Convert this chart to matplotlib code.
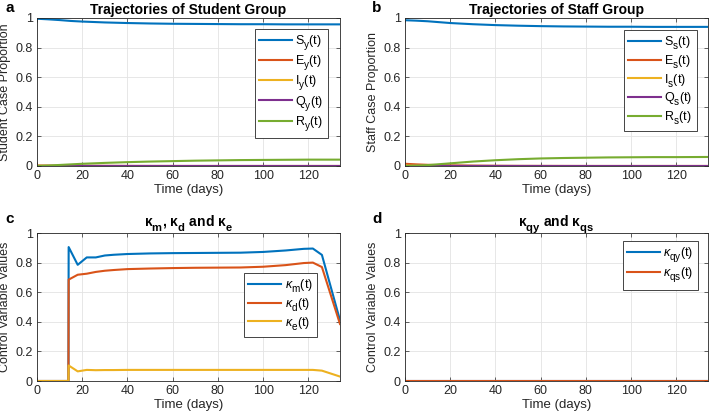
import matplotlib.pyplot as plt
import numpy as np

plt.rcParams['font.family'] = 'Liberation Sans'
plt.rcParams['font.size'] = 9
plt.rcParams['mathtext.fontset'] = 'custom'
plt.rcParams['mathtext.rm'] = 'Liberation Sans'
plt.rcParams['mathtext.it'] = 'Liberation Sans:italic'
plt.rcParams['mathtext.bf'] = 'Liberation Sans:bold'

# MATLAB-like subscripts: a bit bigger and lower than mathtext default
try:
    import matplotlib._mathtext as _mt
    _mt.SHRINK_FACTOR = 0.8
    _mt.FontConstantsBase.sub1 = 0.7
    _mt.FontConstantsBase.sub2 = 0.8
except Exception:
    pass

# ---------------- data ----------------
t_traj = [0, 5, 10, 15, 20, 30, 40, 50, 60, 70, 80, 90, 100, 110, 120, 134]

S_y = [0.995, 0.991, 0.986, 0.980, 0.976, 0.970, 0.966, 0.963, 0.961, 0.960, 0.959, 0.958, 0.958, 0.957, 0.957, 0.957]
E_y = [0.003, 0.002, 0.0015, 0.001, 0.0007, 0.0004, 0.0002, 0.0001, 0.0001, 0, 0, 0, 0, 0, 0, 0]
I_y = [0.002, 0.002, 0.0015, 0.001, 0.0008, 0.0005, 0.0003, 0.0002, 0.0001, 0.0001, 0, 0, 0, 0, 0, 0]
Q_y = [0.0, 0.0005, 0.0008, 0.0008, 0.0007, 0.0005, 0.0003, 0.0002, 0.0001, 0.0001, 0, 0, 0, 0, 0, 0]
R_y = [0.0, 0.003, 0.007, 0.011, 0.015, 0.021, 0.026, 0.030, 0.033, 0.036, 0.038, 0.040, 0.041, 0.042, 0.043, 0.043]

S_s = [0.985, 0.982, 0.978, 0.972, 0.966, 0.958, 0.952, 0.948, 0.945, 0.943, 0.942, 0.941, 0.941, 0.940, 0.940, 0.940]
E_s = [0.015, 0.011, 0.008, 0.006, 0.004, 0.002, 0.001, 0.0005, 0.0003, 0.0002, 0.0001, 0, 0, 0, 0, 0]
I_s = [0.003, 0.003, 0.0025, 0.002, 0.0015, 0.001, 0.0006, 0.0003, 0.0002, 0.0001, 0, 0, 0, 0, 0, 0]
Q_s = [0.0, 0.001, 0.0015, 0.0015, 0.0012, 0.0008, 0.0005, 0.0003, 0.0002, 0.0001, 0, 0, 0, 0, 0, 0]
R_s = [0.0, 0.002, 0.006, 0.012, 0.018, 0.030, 0.039, 0.046, 0.051, 0.054, 0.056, 0.058, 0.059, 0.060, 0.060, 0.061]

t_ctrl = [0, 13.9, 14, 18, 22, 26, 30, 34, 40, 50, 60, 70, 80, 90, 100, 110, 118, 122, 126, 134]
k_m = [0, 0, 0.905, 0.785, 0.835, 0.835, 0.848, 0.853, 0.858, 0.862, 0.864, 0.865, 0.866, 0.867, 0.872, 0.882, 0.893, 0.895, 0.852, 0.41]
k_d = [0, 0, 0.685, 0.718, 0.725, 0.737, 0.745, 0.750, 0.756, 0.760, 0.763, 0.765, 0.766, 0.767, 0.772, 0.783, 0.797, 0.800, 0.770, 0.385]
k_e = [0, 0, 0.105, 0.065, 0.075, 0.073, 0.074, 0.074, 0.075, 0.075, 0.075, 0.075, 0.075, 0.075, 0.075, 0.075, 0.075, 0.075, 0.070, 0.030]

t_q = [0, 134]
k_qy = [0, 0]
k_qs = [0, 0]

colors = ['#0072BD', '#D95319', '#EDB120', '#7E2F8E', '#77AC30']
axcol = '#262626'

fig = plt.figure(figsize=(7.09, 4.18), dpi=100)
w, h = 303/709, 148/418
ax_a = fig.add_axes([37/709, 1-166/418, w, h])
ax_b = fig.add_axes([405/709, 1-166/418, w, h])
ax_c = fig.add_axes([37/709, 1-381/418, w, h])
ax_d = fig.add_axes([405/709, 1-381/418, w, h])


def style(ax, ylabel, title, tpad=3):
    ax.set_xlim(0, 134)
    ax.set_ylim(0, 1)
    ax.set_xticks(np.arange(0, 121, 20))
    ax.set_yticks([0, 0.2, 0.4, 0.6, 0.8, 1])
    ax.set_yticklabels(['0', '0.2', '0.4', '0.6', '0.8', '1'])
    ax.tick_params(direction='in', top=True, right=True, length=3, width=0.5,
                   colors=axcol, labelsize=9, pad=3)
    for sp in ax.spines.values():
        sp.set_color(axcol)
        sp.set_linewidth(0.6)
    ax.grid(True, color='#e3e3e3', lw=0.6)
    ax.set_axisbelow(True)
    ax.set_xlabel('Time (days)', color=axcol, labelpad=1, fontsize=9.5)
    ax.set_ylabel(ylabel, color=axcol, labelpad=3, fontsize=9)
    ax.set_title(title, fontweight='bold', fontsize=10, pad=tpad)


def leg(ax, anchor):
    l = ax.legend(loc='upper right', bbox_to_anchor=anchor, fancybox=False,
                  edgecolor=axcol, framealpha=1, fontsize=9, handlelength=2.6,
                  labelspacing=0.06, borderpad=0.35, handletextpad=0.3,
                  borderaxespad=0)
    l.get_frame().set_linewidth(0.6)


lw = 1.5
# a
for y, c, lab in zip([S_y, E_y, I_y, Q_y, R_y], colors,
                     ['S$_\\mathregular{y}$(t)', 'E$_\\mathregular{y}$(t)', 'I$_\\mathregular{y}$(t)',
                      'Q$_\\mathregular{y}$(t)', 'R$_\\mathregular{y}$(t)']):
    ax_a.plot(t_traj, y, color=c, lw=lw, label=lab)
style(ax_a, 'Student Case Proportion', 'Trajectories of Student Group')
leg(ax_a, ((328 - 37) / 303, (166 - 29) / 148))

# b
for y, c, lab in zip([S_s, E_s, I_s, Q_s, R_s], colors,
                     ['S$_\\mathregular{s}$(t)', 'E$_\\mathregular{s}$(t)', 'I$_\\mathregular{s}$(t)',
                      'Q$_\\mathregular{s}$(t)', 'R$_\\mathregular{s}$(t)']):
    ax_b.plot(t_traj, y, color=c, lw=lw, label=lab)
style(ax_b, 'Staff Case Proportion', 'Trajectories of Staff Group')
leg(ax_b, ((697 - 405) / 303, (166 - 30) / 148))

# c
for y, c, lab in zip([k_m, k_d, k_e], colors,
                     ['$\\kappa_\\mathregular{m}$(t)', '$\\kappa_\\mathregular{d}$(t)',
                      '$\\kappa_\\mathregular{e}$(t)']):
    ax_c.plot(t_ctrl, y, color=c, lw=lw, label=lab)
style(ax_c, 'Control Variable Values',
      '$\\mathbf{\\kappa_{m}}$, $\\mathbf{\\kappa_{d}}$ and $\\mathbf{\\kappa_{e}}$', tpad=5)
leg(ax_c, ((317 - 37) / 303, (381 - 273) / 148))

# d
for y, c, lab in zip([k_qy, k_qs], colors,
                     ['$\\kappa_\\mathregular{qy}$(t)', '$\\kappa_\\mathregular{qs}$(t)']):
    ax_d.plot(t_q, y, color=c, lw=lw, label=lab)
style(ax_d, 'Control Variable Values',
      '$\\mathbf{\\kappa_{qy}}$ and $\\mathbf{\\kappa_{qs}}$', tpad=5)
leg(ax_d, ((698 - 405) / 303, (381 - 241) / 148))

for ax, lab, x0 in zip([ax_a, ax_b, ax_c, ax_d], 'abcd', [5, 372, 5, 372]):
    y0 = 8 if lab in 'ab' else 219
    fig.text(x0 / 709, 1 - y0 / 418, lab, fontweight='bold', fontsize=11,
             ha='left', va='center')

fig.savefig('out.png', dpi=100)
